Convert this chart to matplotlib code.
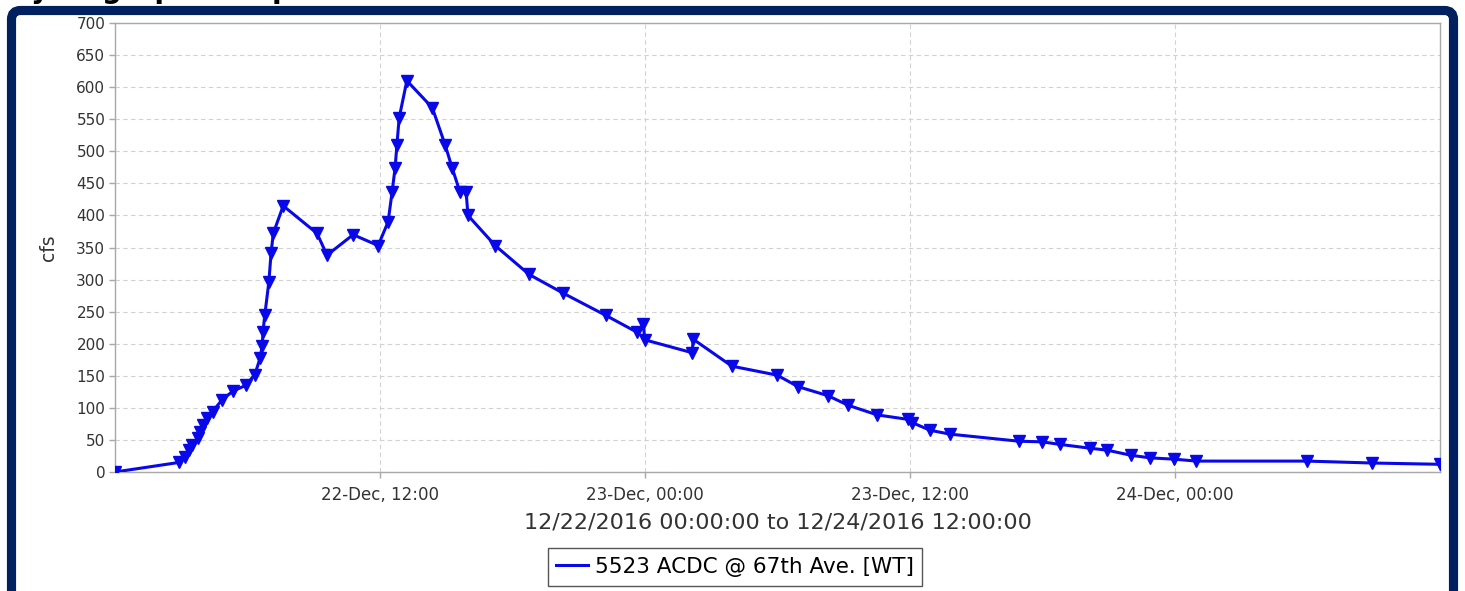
import numpy as np
import pandas as pd
import matplotlib
matplotlib.use("Agg")
import matplotlib.pyplot as plt
import matplotlib.dates as mdates
from matplotlib.patches import FancyBboxPatch
from matplotlib.lines import Line2D
from matplotlib.transforms import IdentityTransform

times = [
    "2016-12-22 00:00", "2016-12-22 02:55", "2016-12-22 03:10", "2016-12-22 03:20",
    "2016-12-22 03:30", "2016-12-22 03:45", "2016-12-22 03:50", "2016-12-22 04:00",
    "2016-12-22 04:10", "2016-12-22 04:25", "2016-12-22 04:50", "2016-12-22 05:20",
    "2016-12-22 05:55", "2016-12-22 06:20", "2016-12-22 06:34", "2016-12-22 06:40",
    "2016-12-22 06:42", "2016-12-22 06:47", "2016-12-22 06:58", "2016-12-22 07:04",
    "2016-12-22 07:10", "2016-12-22 07:37", "2016-12-22 09:09", "2016-12-22 09:36",
    "2016-12-22 10:47", "2016-12-22 11:55", "2016-12-22 12:22", "2016-12-22 12:33",
    "2016-12-22 12:41", "2016-12-22 12:46", "2016-12-22 12:52", "2016-12-22 13:13",
    "2016-12-22 14:22", "2016-12-22 14:57", "2016-12-22 15:16", "2016-12-22 15:37",
    "2016-12-22 15:54", "2016-12-22 15:59", "2016-12-22 17:13", "2016-12-22 18:45",
    "2016-12-22 20:17", "2016-12-22 22:14", "2016-12-22 23:38", "2016-12-22 23:55",
    "2016-12-23 00:00", "2016-12-23 02:08", "2016-12-23 02:11", "2016-12-23 03:56",
    "2016-12-23 05:59", "2016-12-23 06:56", "2016-12-23 08:17", "2016-12-23 09:12",
    "2016-12-23 10:31", "2016-12-23 11:55", "2016-12-23 12:06", "2016-12-23 12:55",
    "2016-12-23 13:49", "2016-12-23 16:56", "2016-12-23 17:59", "2016-12-23 18:48",
    "2016-12-23 20:10", "2016-12-23 20:56", "2016-12-23 22:01", "2016-12-23 22:53",
    "2016-12-23 23:58", "2016-12-24 00:58", "2016-12-24 05:59", "2016-12-24 08:56",
    "2016-12-24 12:00",
]
flow = [
    0, 15, 23, 34,
    42, 53, 62, 73,
    84, 94, 112, 126,
    135, 152, 177, 197,
    218, 245, 296, 341,
    372, 415, 372, 338,
    370, 353, 390, 437,
    474, 510, 552, 610,
    568, 510, 474, 437,
    437, 400, 353, 308,
    279, 244, 218, 230,
    206, 186, 207, 165,
    151, 133, 119, 104,
    89, 82, 77, 65,
    59, 48, 47, 43,
    37, 34, 26, 22,
    20, 17, 17, 14,
    12,
]
tick_times = ["2016-12-22 12:00", "2016-12-23 00:00", "2016-12-23 12:00", "2016-12-24 00:00"]
y_ticks = list(range(0, 701, 50))
series_name = "5523 ACDC @ 67th Ave. [WT]"
x_title = "12/22/2016 00:00:00 to 12/24/2016 12:00:00"

W, H = 1465, 591
fig = plt.figure(figsize=(W / 100, H / 100), dpi=100)
fig.patch.set_facecolor("white")

# cut-off page title above the frame
fig.text(8 / W, 1 + 1.5 / H, "Hydrograph Comparison", fontsize=20,
         fontweight="bold", va="baseline", ha="left", color="black")

# navy frame
frame = FancyBboxPatch((11.5, -20), W - 23, H - 10.5 + 20,
                       boxstyle="round,pad=0,rounding_size=9",
                       transform=IdentityTransform(), facecolor="none",
                       edgecolor="#00205f", linewidth=6.6, zorder=5)
fig.add_artist(frame)

ax = fig.add_axes([115 / W, 1 - 472 / H, 1325 / W, 449 / H])
t = pd.to_datetime(times)
ax.plot(t, flow, color="#0808e8", lw=2.2, marker="v", ms=8.5, zorder=3)

ax.set_xlim(pd.Timestamp("2016-12-22 00:00"), pd.Timestamp("2016-12-24 12:00"))
ax.set_ylim(0, 700)
ax.set_yticks(y_ticks)
ax.set_xticks(pd.to_datetime(tick_times))
ax.xaxis.set_major_formatter(mdates.DateFormatter("%d-%b, %H:%M"))

ax.grid(True, color="#d2d2d2", lw=0.8, ls=(0, (4, 3)))
ax.set_axisbelow(True)
for s in ax.spines.values():
    s.set_color("#a8a8a8")
    s.set_linewidth(1.0)
ax.tick_params(axis="both", colors="#a8a8a8", labelcolor="#333333",
               length=4, width=1)
ax.tick_params(axis="y", labelsize=11, pad=3)
ax.tick_params(axis="x", labelsize=12, pad=6)

ax.set_ylabel("cfs", fontsize=13.5, color="#333333", labelpad=13)
ax.set_xlabel(x_title, fontsize=16, color="#333333", labelpad=6)

handle = Line2D([], [], color="#0808e8", lw=2.2)
fig.legend([handle], [series_name], loc="center",
           bbox_to_anchor=(735 / W, 1 - 567 / H), fontsize=15.5,
           fancybox=False, edgecolor="#555555", framealpha=1,
           handlelength=1.5, handletextpad=0.3, borderpad=0.4)

fig.savefig("out.png", dpi=100, facecolor="white")
